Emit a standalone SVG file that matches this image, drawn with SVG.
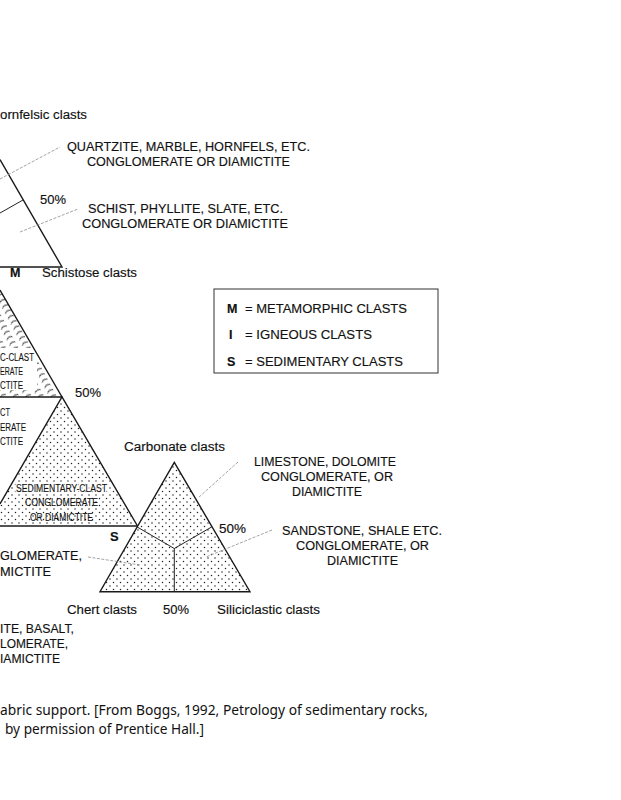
<svg xmlns="http://www.w3.org/2000/svg" width="621" height="800" viewBox="0 0 621 800">
<style>
.t{font-family:"Liberation Sans",Arial,Helvetica,sans-serif;fill:#111;font-size:12.5px;stroke:#111;stroke-width:0.15}
.s{font-size:10px;stroke-width:0.1}
.m{font-size:13px}
.b{font-weight:bold}
.cap{font-family:"Noto Sans","Open Sans","Liberation Sans",sans-serif;font-size:13.5px;fill:#111}
.edge{fill:none;stroke:#1a1a1a;stroke-width:1.4;stroke-linejoin:miter}
.inner{fill:none;stroke:#222;stroke-width:1}
.lead{fill:none;stroke:#8a8a8a;stroke-width:0.8;stroke-dasharray:3 1.5}
</style>
<defs>
<pattern id="dots" width="7" height="7" patternUnits="userSpaceOnUse">
<circle cx="1.5" cy="1.5" r="0.75" fill="#222"/>
<circle cx="5" cy="5" r="0.75" fill="#222"/>
</pattern>
<pattern id="hatch" width="11" height="6" patternUnits="userSpaceOnUse" patternTransform="rotate(-28)">
<path d="M0.5,3.5 c2,-2 4,-2 6.5,-0.5" fill="none" stroke="#222" stroke-width="1"/>
</pattern>
<clipPath id="hclip"><polygon points="0,290 62,397 0,397"/></clipPath>
</defs>
<rect width="621" height="800" fill="#fff"/>

<g id="metamorphic-triangle">
<path class="edge" d="M0,159.6 L62,267 L0,267"/>
<line class="inner" x1="0" y1="213" x2="23" y2="200"/>
<text class="t" x="0" y="119" textLength="87" lengthAdjust="spacingAndGlyphs">ornfelsic clasts</text>
<text class="t m" x="40" y="204" textLength="26" lengthAdjust="spacingAndGlyphs">50%</text>
<text class="t b" x="10" y="277">M</text>
<text class="t" x="42" y="277" textLength="95" lengthAdjust="spacingAndGlyphs">Schistose clasts</text>
</g>

<g id="quartzite-label">
<text class="t" x="67" y="151" textLength="243" lengthAdjust="spacingAndGlyphs">QUARTZITE, MARBLE, HORNFELS, ETC.</text>
<text class="t" x="87" y="166" textLength="203" lengthAdjust="spacingAndGlyphs">CONGLOMERATE OR DIAMICTITE</text>
</g>
<g id="schist-label">
<text class="t" x="88" y="213" textLength="195" lengthAdjust="spacingAndGlyphs">SCHIST, PHYLLITE, SLATE, ETC.</text>
<text class="t" x="82" y="228" textLength="206" lengthAdjust="spacingAndGlyphs">CONGLOMERATE OR DIAMICTITE</text>
</g>

<g id="legend">
<rect x="214" y="289" width="224" height="84" fill="#fff" stroke="#333" stroke-width="1"/>
<text class="t b" x="227" y="313">M</text>
<text class="t" x="245" y="313" textLength="162" lengthAdjust="spacingAndGlyphs">= METAMORPHIC CLASTS</text>
<text class="t b" x="229" y="339">I</text>
<text class="t" x="245" y="339" textLength="127" lengthAdjust="spacingAndGlyphs">= IGNEOUS CLASTS</text>
<text class="t b" x="227" y="366">S</text>
<text class="t" x="245" y="366" textLength="158" lengthAdjust="spacingAndGlyphs">= SEDIMENTARY CLASTS</text>
</g>

<g id="metamorphic-clast-field">
<rect x="0" y="288" width="70" height="110" fill="url(#hatch)" clip-path="url(#hclip)"/>
<rect x="0" y="348" width="37" height="42" fill="#fff"/>
<path class="edge" d="M0,290 L62,397 L0,397"/>
<text class="t s" x="0" y="361" textLength="34" lengthAdjust="spacingAndGlyphs">C-CLAST</text>
<text class="t s" x="0" y="375" textLength="23" lengthAdjust="spacingAndGlyphs">ERATE</text>
<text class="t s" x="0" y="389" textLength="23" lengthAdjust="spacingAndGlyphs">CTITE</text>
<text class="t m" x="75" y="397" textLength="26" lengthAdjust="spacingAndGlyphs">50%</text>
</g>

<g id="igneous-field-text">
<text class="t s" x="0" y="416" textLength="10" lengthAdjust="spacingAndGlyphs">CT</text>
<text class="t s" x="0" y="431" textLength="26" lengthAdjust="spacingAndGlyphs">ERATE</text>
<text class="t s" x="0" y="445" textLength="23" lengthAdjust="spacingAndGlyphs">CTITE</text>
</g>

<g id="sedimentary-triangle">
<polygon points="62,397 137,526 -13,526" fill="url(#dots)"/>
<path class="edge" d="M0,504 L62,397 L137.5,526"/>
<line x1="0" y1="526" x2="138" y2="526" stroke="#1a1a1a" stroke-width="1.6"/>
<rect x="15" y="483" width="93" height="10" fill="#fff" opacity="0.6"/>
<text class="t s" x="16" y="492" textLength="91" lengthAdjust="spacingAndGlyphs">SEDIMENTARY-CLAST</text>
<text class="t s" x="25" y="506" textLength="73" lengthAdjust="spacingAndGlyphs">CONGLOMERATE</text>
<text class="t s" x="30" y="521" textLength="63" lengthAdjust="spacingAndGlyphs">OR DIAMICTITE</text>
<text class="t b m" x="110" y="541">S</text>
</g>

<g id="sedimentary-subtriangle">
<polygon points="174.3,462.3 250,591.7 100,591.7" fill="url(#dots)"/>
<polygon class="edge" points="174.3,462.3 250,591.7 100,591.7"/>
<path class="inner" d="M137.2,527 L174.3,548.5 L211.6,527 M174.3,548.5 L174.3,591.7"/>
<text class="t" x="124" y="451" textLength="101" lengthAdjust="spacingAndGlyphs">Carbonate clasts</text>
<text class="t m" x="219" y="533" textLength="27" lengthAdjust="spacingAndGlyphs">50%</text>
<text class="t" x="67" y="614" textLength="70" lengthAdjust="spacingAndGlyphs">Chert clasts</text>
<text class="t" x="163" y="614" textLength="26" lengthAdjust="spacingAndGlyphs">50%</text>
<text class="t" x="217" y="614" textLength="103" lengthAdjust="spacingAndGlyphs">Siliciclastic clasts</text>
</g>

<g id="limestone-label">
<text class="t" x="254" y="466" textLength="142" lengthAdjust="spacingAndGlyphs">LIMESTONE, DOLOMITE</text>
<text class="t" x="261" y="481" textLength="132" lengthAdjust="spacingAndGlyphs">CONGLOMERATE, OR</text>
<text class="t" x="292" y="496" textLength="70" lengthAdjust="spacingAndGlyphs">DIAMICTITE</text>
</g>
<g id="sandstone-label">
<text class="t" x="282" y="535" textLength="160" lengthAdjust="spacingAndGlyphs">SANDSTONE, SHALE ETC.</text>
<text class="t" x="296" y="550" textLength="133" lengthAdjust="spacingAndGlyphs">CONGLOMERATE, OR</text>
<text class="t" x="327" y="565" textLength="71" lengthAdjust="spacingAndGlyphs">DIAMICTITE</text>
</g>
<g id="chert-label">
<text class="t m" x="0" y="560" textLength="82" lengthAdjust="spacingAndGlyphs">GLOMERATE,</text>
<text class="t m" x="0" y="576" textLength="51" lengthAdjust="spacingAndGlyphs">MICTITE</text>
</g>
<g id="igneous-label">
<text class="t" x="0" y="633" textLength="74" lengthAdjust="spacingAndGlyphs">ITE, BASALT,</text>
<text class="t" x="0" y="648" textLength="68" lengthAdjust="spacingAndGlyphs">LOMERATE,</text>
<text class="t" x="0" y="663" textLength="60" lengthAdjust="spacingAndGlyphs">IAMICTITE</text>
</g>

<g id="connectors">
<line class="lead" x1="0" y1="179" x2="60" y2="147"/>
<line class="lead" x1="20" y1="232" x2="78" y2="209"/>
<line class="lead" x1="238" y1="462" x2="198" y2="498"/>
<line class="lead" x1="272" y1="530" x2="206" y2="557"/>
<line class="lead" x1="88" y1="557" x2="140" y2="565"/>
</g>

<g id="caption">
<text class="cap" x="0" y="715" textLength="428" lengthAdjust="spacingAndGlyphs">abric support. [From Boggs, 1992, Petrology of sedimentary rocks,</text>
<text class="cap" x="5" y="734" textLength="199" lengthAdjust="spacingAndGlyphs">by permission of Prentice Hall.]</text>
</g>
</svg>
